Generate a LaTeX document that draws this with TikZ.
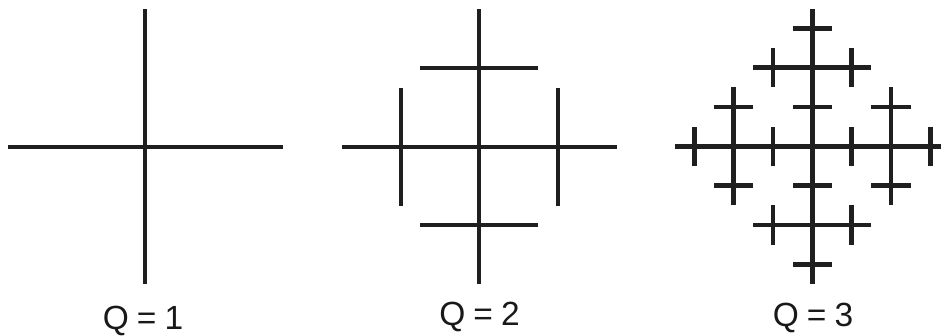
\documentclass[tikz,border=0pt]{standalone}
\usepackage{fontspec}
\setmainfont{Liberation Sans}
\begin{document}
\begin{tikzpicture}[x=1pt,y=-1pt,
  bar/.style={draw=black!88,line width=4.2pt,line cap=butt},
  barthick/.style={draw=black!88,line width=4.7pt,line cap=butt},
  qlabel/.style={font=\fontsize{33.5}{36}\selectfont,text=black!90,inner sep=0pt,anchor=base}]
\clip (0,0) rectangle (941,336);
\pgfmathsetmacro{\a}{137.5/7}
% Q=1
\begin{scope}[shift={(145,146.7)}]
  \draw[bar] (-137.5,0) -- (137.5,0);
  \draw[bar] (0,-137.5) -- (0,137.5);
\end{scope}
% Q=2
\begin{scope}[shift={(479.3,146.7)}]
  \draw[bar] (-137.5,0) -- (137.5,0);
  \draw[bar] (0,-137.5) -- (0,137.5);
  \foreach \r in {0,90,180,270}{
    \begin{scope}[rotate=\r]
      \draw[bar] (4*\a,-3*\a) -- (4*\a,3*\a);
    \end{scope}
  }
\end{scope}
% Q=3
\begin{scope}[shift={(812.3,146.3)}]
  \draw[barthick] (-137.5,0) -- (137.5,0);
  \draw[barthick] (0,-137.5) -- (0,137.5);
  \foreach \r in {0,90,180,270}{
    \begin{scope}[rotate=\r]
      \draw[barthick] (2*\a,-\a) -- (2*\a,\a);
      \draw[barthick] (6*\a,-\a) -- (6*\a,\a);
      \draw[barthick] (4*\a,-3*\a) -- (4*\a,3*\a);
      \draw[barthick] (3*\a,-2*\a) -- (5*\a,-2*\a);
      \draw[barthick] (3*\a,2*\a) -- (5*\a,2*\a);
    \end{scope}
  }
\end{scope}
% labels
\node[qlabel] (q1) at (143,329.3) {Q\hspace{0.24em}=\hspace{0.24em}1};
\node[qlabel] (q2) at (479.5,325) {Q\hspace{0.24em}=\hspace{0.24em}2};
\node[qlabel] (q3) at (813,326) {Q\hspace{0.24em}=\hspace{0.24em}3};
\end{tikzpicture}
\end{document}
